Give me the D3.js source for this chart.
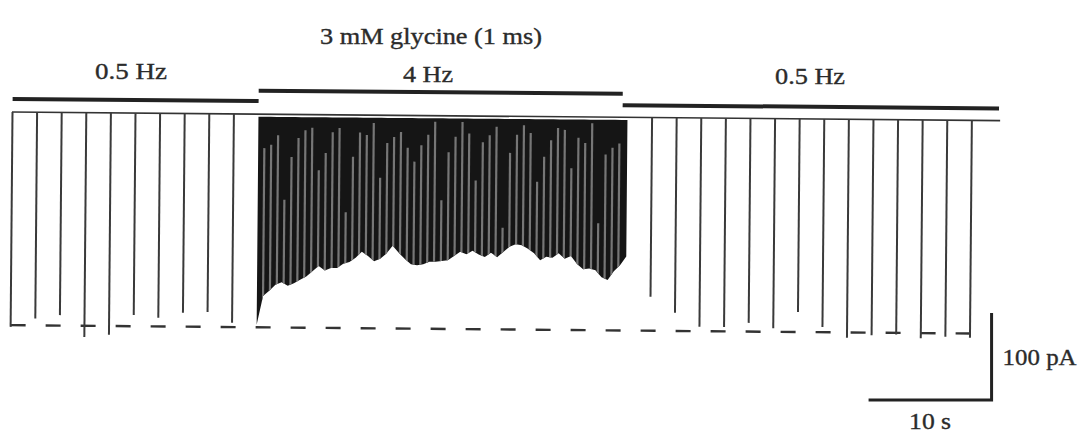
<!DOCTYPE html>
<html>

<head>
	<title>Glycine currents at 0.5 Hz and 4 Hz</title>
	<meta charset="utf-8">
	<script src="https://d3js.org/d3.v7.min.js"></script>
	<style>
		body {
			padding: 0;
			margin: 0;
			background: #fff;
		}

		#graph {
			position: absolute;
			top: 0px;
			left: 0px;
		}

		text {
			font-family: "Liberation Serif", "Times New Roman", serif;
			fill: #2b2b2b;
			stroke: #2b2b2b;
			stroke-width: 0.35px;
		}
	</style>
	<script>
		// slow stimulation before and after the train (time in s, peak current in pA)
		var slowTimesBefore = [0, 2, 4, 6, 8, 10, 12, 14, 16, 18];
		var slowPeaksBefore = [247, 237, 233, 258, 255, 232, 235, 229, 228, 240];
		var slowTimesAfter = [52, 54, 56, 58, 60, 62, 64, 66, 68, 70, 72, 74, 76, 78];
		var slowPeaksAfter = [206, 224, 240, 240, 235, 241, 222, 239, 251, 248, 247, 251, 249, 250];

		// 4 Hz train: envelope of peak currents, read every 0.5 s from 20 s to 50 s
		var fastStart = 20, fastStep = 0.5;
		var fastPeaks = [242, 209, 203, 196, 193, 197, 194, 190, 186, 180, 174, 179, 176, 176, 171, 169,
			164, 157, 162, 168, 165, 159, 150, 158, 165, 171, 172, 171, 168, 168, 167, 166, 161, 156, 159,
			155, 159, 162, 157, 162, 156, 150, 147, 148, 152, 157, 165, 161, 162, 157, 163, 160, 169, 175,
			174, 176, 184, 187, 177, 170, 160];

		// partial recovery between responses of the train (current reached in the gaps, pA)
		var gapStart = 20.5, gapStep = 0.555;
		var gapLevels = [39, 35, 24, 98, 49, 27, 18, 15, 64, 44, 20, 15, 112, 48, 20, 23, 9, 72, 32, 25,
			19, 37, 53, 34, 22, 7, 97, 42, 24, 7, 20, 74, 30, 22, 12, 128, 42, 21, 10, 19, 75, 46, 27, 13,
			15, 59, 24, 30, 7, 122, 43, 35, 30];

		// stimulation periods
		var periodStarts = [0, 20, 49.6];
		var periodEnds = [20, 49.6, 80.2];
		var periodLabels = ["0.5 Hz", "4 Hz", "0.5 Hz"];
		var periodLevels = [15, 27, 14]; // height of the bar above the trace (pA)

		var traceEnd = 80.3;    // end of recording (s)
		var firstPeak = 245;    // dashed reference at the first response amplitude (pA)
		var dashEnd = 78.2;

		var svg, x, y;

		function init() {
			var width = 1086, height = 444;

			svg = d3.select("#graph")
				.append("svg")
				.attr("width", width)
				.attr("height", height);

			// 12.3 px per second, 0.87 px per pA
			x = d3.scaleLinear().domain([0, 80]).range([12.5, 12.5 + 80 * 12.3]);
			y = d3.scaleLinear().domain([0, -300]).range([112, 112 + 300 * 0.87]);

			// the recording is slightly tilted on the page
			var g = svg.append("g")
				.attr("transform", "rotate(0.5," + x(0) + "," + y(0) + ")");

			// dashed line at the first response amplitude
			g.append("line")
				.attr("x1", x(0)).attr("x2", x(dashEnd))
				.attr("y1", y(-firstPeak)).attr("y2", y(-firstPeak))
				.attr("stroke", "#333")
				.attr("stroke-width", 2.4)
				.attr("stroke-dasharray", "15,20");

			// baseline of the trace
			g.append("line")
				.attr("x1", x(0) - 0.5).attr("x2", x(traceEnd))
				.attr("y1", y(0)).attr("y2", y(0))
				.attr("stroke", "#333")
				.attr("stroke-width", 1.6);

			// slow responses
			var slow = slowTimesBefore.map(function (t, i) { return { t: t, v: slowPeaksBefore[i] }; })
				.concat(slowTimesAfter.map(function (t, i) { return { t: t, v: slowPeaksAfter[i] }; }));
			g.selectAll(".spike")
				.data(slow)
				.enter().append("line")
				.classed("spike", true)
				.attr("x1", function (d) { return x(d.t); })
				.attr("x2", function (d) { return x(d.t); })
				.attr("y1", y(0))
				.attr("y2", function (d) { return y(-d.v); })
				.attr("stroke", "#3a3a3a")
				.attr("stroke-width", 2);

			// 4 Hz train as a filled envelope
			var fast = fastPeaks.map(function (v, i) { return { t: fastStart + i * fastStep, v: v }; });
			var area = d3.area()
				.x(function (d) { return x(d.t); })
				.y0(y(-3))
				.y1(function (d) { return y(-d.v); });

			g.append("clipPath")
				.attr("id", "trainclip")
				.append("path")
				.attr("d", area(fast));

			g.append("path")
				.attr("d", area(fast))
				.attr("fill", "#151515");

			// lighter gaps where the current partly recovers between responses
			g.append("g")
				.attr("clip-path", "url(#trainclip)")
				.selectAll(".gap")
				.data(gapLevels)
				.enter().append("line")
				.classed("gap", true)
				.attr("x1", function (d, i) { return x(gapStart + i * gapStep); })
				.attr("x2", function (d, i) { return x(gapStart + i * gapStep); })
				.attr("y1", function (d) { return y(-d); })
				.attr("y2", y(-300))
				.attr("stroke", "#767676")
				.attr("stroke-width", 2.2);

			// stimulation bars
			g.selectAll(".period")
				.data(periodStarts)
				.enter().append("line")
				.classed("period", true)
				.attr("x1", function (d) { return x(d); })
				.attr("x2", function (d, i) { return x(periodEnds[i]); })
				.attr("y1", function (d, i) { return y(periodLevels[i]); })
				.attr("y2", function (d, i) { return y(periodLevels[i]); })
				.attr("stroke", "#222")
				.attr("stroke-width", 4);

			// labels (scanned type is a bit wide, so lengths are fixed)
			var labelX = [131, 428, 810], labelY = [79, 82, 84], labelW = [72, 50, 70];
			svg.selectAll(".plabel")
				.data(periodLabels)
				.enter().append("text")
				.classed("plabel", true)
				.attr("x", function (d, i) { return labelX[i]; })
				.attr("y", function (d, i) { return labelY[i]; })
				.attr("text-anchor", "middle")
				.attr("font-size", 23)
				.attr("textLength", function (d, i) { return labelW[i]; })
				.attr("lengthAdjust", "spacingAndGlyphs")
				.text(function (d) { return d; });

			svg.append("text")
				.attr("x", 431).attr("y", 44)
				.attr("text-anchor", "middle")
				.attr("font-size", 23)
				.attr("textLength", 222)
				.attr("lengthAdjust", "spacingAndGlyphs")
				.text("3 mM glycine (1 ms)");

			// scale bars: 10 s and 100 pA
			var cornerT = 79.6, cornerI = -331;
			svg.append("path")
				.attr("d", "M" + x(cornerT - 10) + "," + y(cornerI) +
					"H" + x(cornerT) + "V" + y(cornerI + 100))
				.attr("fill", "none")
				.attr("stroke", "#222")
				.attr("stroke-width", 3);

			svg.append("text")
				.attr("x", x(cornerT) + 11).attr("y", 365)
				.attr("font-size", 23)
				.attr("textLength", 74)
				.attr("lengthAdjust", "spacingAndGlyphs")
				.text("100 pA");

			svg.append("text")
				.attr("x", x(cornerT - 5)).attr("y", 429)
				.attr("text-anchor", "middle")
				.attr("font-size", 23)
				.attr("textLength", 42)
				.attr("lengthAdjust", "spacingAndGlyphs")
				.text("10 s");
		}

		window.onload = init;
	</script>
</head>

<body>
	<div id="graph"></div>
</body>

</html>
